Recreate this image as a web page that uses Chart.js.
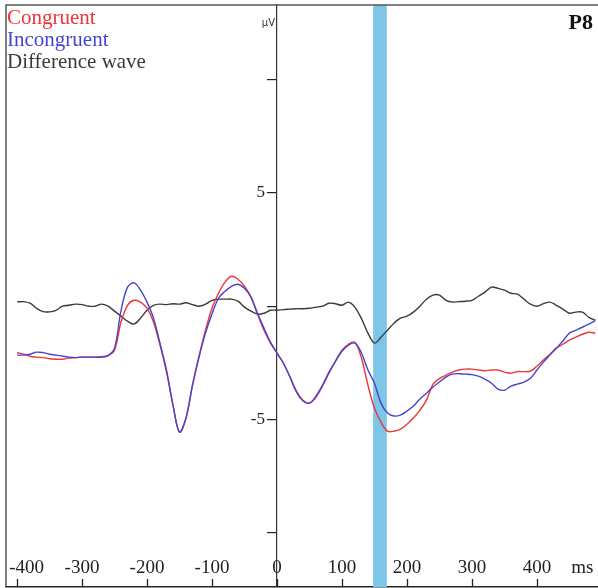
<!DOCTYPE html>
<html>
<head>
<meta charset="utf-8">
<script src="https://cdn.jsdelivr.net/npm/chart.js@4.4.1/dist/chart.umd.min.js"></script>
<style>
  html, body { margin: 0; padding: 0; background: #fff; overflow: hidden; }
  #wrap { position: relative; width: 598px; height: 603px; }
</style>
</head>
<body>
<div id="wrap"><canvas id="erp"></canvas></div>
<script>
// time points (ms) and amplitudes (µV)
var times = [-400, -390, -380, -370, -360, -350, -340, -330, -320, -310,
  -300, -290, -280, -270, -260, -250, -240, -230, -220, -210,
  -200, -190, -180, -170, -160, -150, -140, -130, -120, -110,
  -100, -90, -80, -70, -60, -50, -40, -30, -20, -10,
  0, 10, 20, 30, 40, 50, 60, 70, 80, 90,
  100, 110, 120, 130, 140, 150, 160, 170, 180, 190,
  200, 210, 220, 230, 240, 250, 260, 270, 280, 290,
  300, 310, 320, 330, 340, 350, 360, 370, 380, 390,
  400, 410, 420, 430, 440, 450, 460, 470, 480, 490];

var congruent = [-2.05, -2.12, -2.21, -2.25, -2.27, -2.32, -2.34, -2.34, -2.29, -2.27,
  -2.25, -2.25, -2.25, -2.23, -2.18, -1.94, -0.70, 0.04, 0.26, 0.18,
  -0.09, -0.71, -1.72, -2.91, -4.37, -5.56, -4.94, -3.49, -2.21, -1.06,
  -0.09, 0.57, 1.06, 1.32, 1.19, 0.88, 0.40, -0.35, -1.06, -1.63,
  -2.07, -2.52, -3.13, -3.75, -4.15, -4.28, -4.02, -3.53, -2.96, -2.43,
  -1.94, -1.68, -1.59, -2.29, -3.49, -4.50, -5.12, -5.52, -5.52, -5.43,
  -5.21, -4.94, -4.59, -4.15, -3.45, -3.20, -3.05, -2.91, -2.82, -2.78,
  -2.78, -2.82, -2.85, -2.82, -2.82, -2.91, -2.96, -2.89, -2.89, -2.87,
  -2.65, -2.38, -2.12, -1.85, -1.68, -1.50, -1.37, -1.24, -1.15, -1.19];

var incongruent = [-2.16, -2.16, -2.12, -2.03, -2.05, -2.12, -2.16, -2.21, -2.25, -2.27,
  -2.25, -2.25, -2.25, -2.25, -2.18, -1.85, -0.20, 0.84, 1.03, 0.71,
  0.18, -0.53, -1.63, -2.82, -4.37, -5.56, -4.94, -3.49, -2.25, -1.19,
  -0.35, 0.35, 0.66, 0.88, 0.97, 0.79, 0.40, -0.31, -0.97, -1.59,
  -2.07, -2.52, -3.13, -3.80, -4.19, -4.28, -3.97, -3.49, -2.91, -2.43,
  -1.99, -1.72, -1.63, -2.07, -2.82, -3.40, -4.28, -4.72, -4.85, -4.81,
  -4.63, -4.41, -4.10, -3.84, -3.57, -3.35, -3.13, -3.00, -2.98, -3.00,
  -3.02, -3.09, -3.22, -3.40, -3.66, -3.71, -3.53, -3.44, -3.35, -3.18,
  -2.82, -2.47, -2.16, -1.85, -1.54, -1.19, -1.06, -0.93, -0.79, -0.64];

var difference = [0.19, 0.20, 0.13, -0.09, -0.24, -0.25, -0.18, 0.00, 0.04, 0.09,
  0.07, 0.00, 0.00, 0.09, 0.00, -0.22, -0.44, -0.66, -0.79, -0.53,
  -0.18, 0.04, 0.09, 0.07, 0.11, 0.09, 0.15, 0.07, 0.00, 0.09,
  0.26, 0.31, 0.31, 0.31, 0.22, -0.04, -0.22, -0.35, -0.31, -0.18,
  -0.18, -0.15, -0.13, -0.11, -0.11, -0.09, -0.04, 0.00, 0.13, 0.11,
  0.04, 0.18, -0.05, -0.55, -1.19, -1.63, -1.37, -1.06, -0.75, -0.53,
  -0.44, -0.26, 0.00, 0.31, 0.49, 0.49, 0.26, 0.18, 0.20, 0.22,
  0.26, 0.44, 0.62, 0.84, 0.79, 0.71, 0.57, 0.53, 0.31, 0.09,
  0.00, 0.11, 0.18, 0.04, -0.13, -0.31, -0.26, -0.26, -0.49, -0.62];

var xTicks = [-400, -300, -200, -100, 0, 100, 200, 300, 400];
var unitAt = 470;            // where the "ms" label sits
var yTicks = [-10, -5, 0, 5, 10];
var yLabels = [-5, 5];
var bandStart = 148, bandEnd = 169;   // highlighted window (ms)
var panelName = 'P8';

var serif = "'Liberation Serif', 'Times New Roman', serif";

function pairs(vals) {
  return times.map(function (t, i) { return { x: t, y: vals[i] }; });
}

function noPad(scale) {
  scale.paddingLeft = 0; scale.paddingRight = 0;
  scale.paddingTop = 0; scale.paddingBottom = 0;
}

// band, frame, inner x ticks, y labels, legend text, panel name
var erpDecor = {
  id: 'erpDecor',
  beforeDatasetsDraw: function (chart) {
    var ctx = chart.ctx, a = chart.chartArea, x = chart.scales.x;
    var x0 = x.getPixelForValue(bandStart), x1 = x.getPixelForValue(bandEnd);
    ctx.save();
    ctx.fillStyle = '#7ec6e8';
    ctx.fillRect(x0, a.top, x1 - x0, a.bottom - a.top);
    ctx.restore();
  },
  afterDraw: function (chart) {
    var ctx = chart.ctx, a = chart.chartArea, x = chart.scales.x, y = chart.scales.y;
    var x0 = x.getPixelForValue(0);
    ctx.save();
    ctx.strokeStyle = '#555';
    ctx.lineWidth = 1.5;
    ctx.beginPath();
    ctx.moveTo(a.left, a.bottom);
    ctx.lineTo(a.left, a.top);
    ctx.lineTo(a.right, a.top);
    ctx.stroke();

    ctx.strokeStyle = '#222';
    ctx.lineWidth = 1.3;
    xTicks.forEach(function (v) {
      var px = Math.round(x.getPixelForValue(v)) + 0.5;
      ctx.beginPath();
      ctx.moveTo(px, a.bottom);
      ctx.lineTo(px, a.bottom - 8);
      ctx.stroke();
    });

    // y labels sit left of the tick marks
    ctx.fillStyle = '#222';
    ctx.font = '17px ' + serif;
    ctx.textAlign = 'right';
    ctx.textBaseline = 'middle';
    yLabels.forEach(function (v) {
      ctx.fillText(String(v), x0 - 12, y.getPixelForValue(v));
    });

    ctx.fillStyle = '#333';
    ctx.font = '10px "DejaVu Sans", sans-serif';
    ctx.fillText('µV', x0 - 2, y.getPixelForValue(12.5));

    ctx.textAlign = 'left';
    ctx.textBaseline = 'alphabetic';
    ctx.font = '21px ' + serif;
    chart.data.datasets.forEach(function (d, i) {
      ctx.fillStyle = d.borderColor;
      ctx.fillText(d.label, a.left + 1, a.top + 19 + i * 22);
    });

    ctx.font = 'bold 22px ' + serif;
    ctx.textAlign = 'right';
    ctx.fillStyle = '#111';
    ctx.fillText(panelName, a.right - 5, 29);
    ctx.restore();
  }
};

new Chart(document.getElementById('erp'), {
  type: 'line',
  data: {
    datasets: [
      { label: 'Congruent', data: pairs(congruent), borderColor: '#ee3538', order: 1 },
      { label: 'Incongruent', data: pairs(incongruent), borderColor: '#4545cf', order: 0 },
      { label: 'Difference wave', data: pairs(difference), borderColor: '#3a3a3a', order: 2 }
    ]
  },
  options: {
    responsive: true,
    maintainAspectRatio: false,
    animation: false,
    layout: { padding: { top: 5, left: 6, right: 0, bottom: 0 } },
    elements: {
      point: { radius: 0 },
      line: { borderWidth: 1.4, tension: 0.35 }
    },
    plugins: { legend: { display: false }, tooltip: { enabled: false } },
    scales: {
      x: {
        type: 'linear',
        position: 'bottom',
        min: -417,
        max: 494,
        afterBuildTicks: function (s) {
          s.ticks = xTicks.concat([unitAt]).map(function (v) { return { value: v }; });
        },
        afterFit: noPad,
        grid: { display: false, drawTicks: false },
        border: { display: true, color: '#222', width: 1.5 },
        ticks: {
          mirror: true,
          padding: 8,
          autoSkip: false,
          maxRotation: 0,
          color: '#222',
          font: { family: serif, size: 19 },
          callback: function (v) {
            if (v === unitAt) return 'ms';
            if (v === -400) return '\u2003-400';
            return String(v);
          }
        }
      },
      y: {
        type: 'linear',
        position: { x: 0 },
        min: -12.4,
        max: 13.3,
        afterBuildTicks: function (s) {
          s.ticks = yTicks.map(function (v) { return { value: v }; });
        },
        afterFit: noPad,
        grid: { drawOnChartArea: false, drawTicks: true, tickLength: 9, color: '#222', lineWidth: 1.2 },
        border: { display: true, color: '#333', width: 1.2, dash: [2, 2] },
        ticks: { display: false }
      }
    }
  },
  plugins: [erpDecor]
});
</script>
</body>
</html>
